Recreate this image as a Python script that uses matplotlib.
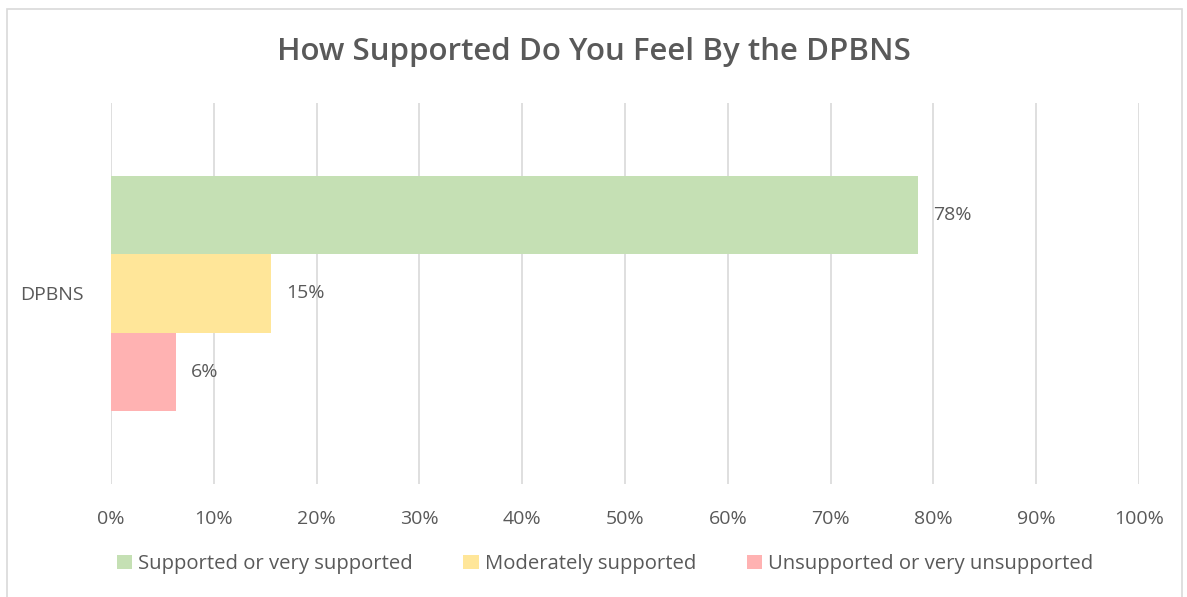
import numpy as np
import matplotlib.pyplot as plt
from matplotlib.patches import Rectangle
from matplotlib.ticker import PercentFormatter

# -----------------------------
# Data
# -----------------------------
category = "DPBNS"
series = ["Supported or very supported", "Moderately supported",
          "Unsupported or very unsupported"]
values = [78.5, 15.6, 6.3]
value_labels = ["78%", "15%", "6%"]
colors = ["#C5E0B4", "#FFE699", "#FFB2B2"]

text_col = "#595959"
plt.rcParams["font.family"] = ["Open Sans", "DejaVu Sans"]
fs = 14

# -----------------------------
# Figure
# -----------------------------
fig = plt.figure(figsize=(11.87, 5.97), dpi=100)
ax = fig.add_axes([111 / 1187, 113 / 597, 1028 / 1187, 381 / 597])

# chart frame
fig.patches.append(Rectangle((7 / 1187, -0.02), 1175 / 1187, 1 - 9 / 597 + 0.02,
                             transform=fig.transFigure, fill=False,
                             edgecolor="#D9D9D9", lw=1.2))

h = 0.205
offsets = [h, 0, -h]
for name, v, lab, c, off in zip(series, values, value_labels, colors, offsets):
    ax.barh(off, v, height=h, color=c, label=name, zorder=2)
    ax.text(v + 1.45, off, lab, va="center", ha="left", fontsize=fs, color=text_col)

ax.set_xlim(0, 100)
ax.set_ylim(-0.5, 0.5)
ax.set_xticks(np.arange(0, 101, 10))
ax.xaxis.set_major_formatter(PercentFormatter(decimals=0))
ax.set_yticks([0])
ax.set_yticklabels([category])
ax.tick_params(length=0, labelsize=fs, colors=text_col)
ax.tick_params(axis="x", pad=19)
ax.tick_params(axis="y", pad=20)
ax.grid(axis="x", color="#D9D9D9", lw=1.2, zorder=0)
for s in ax.spines.values():
    s.set_visible(False)

fig.text(0.5, 1 - 52 / 597, "How Supported Do You Feel By the DPBNS",
         ha="center", va="center", fontsize=22.5, fontweight="semibold", color=text_col)

fig.legend(loc="center", bbox_to_anchor=(605 / 1187, 1 - 564 / 597), ncol=3,
           frameon=False, fontsize=14.6, labelcolor=text_col,
           handlelength=0.75, handleheight=0.75, handletextpad=0.3, columnspacing=2.5)

fig.savefig("out.png", dpi=100)
